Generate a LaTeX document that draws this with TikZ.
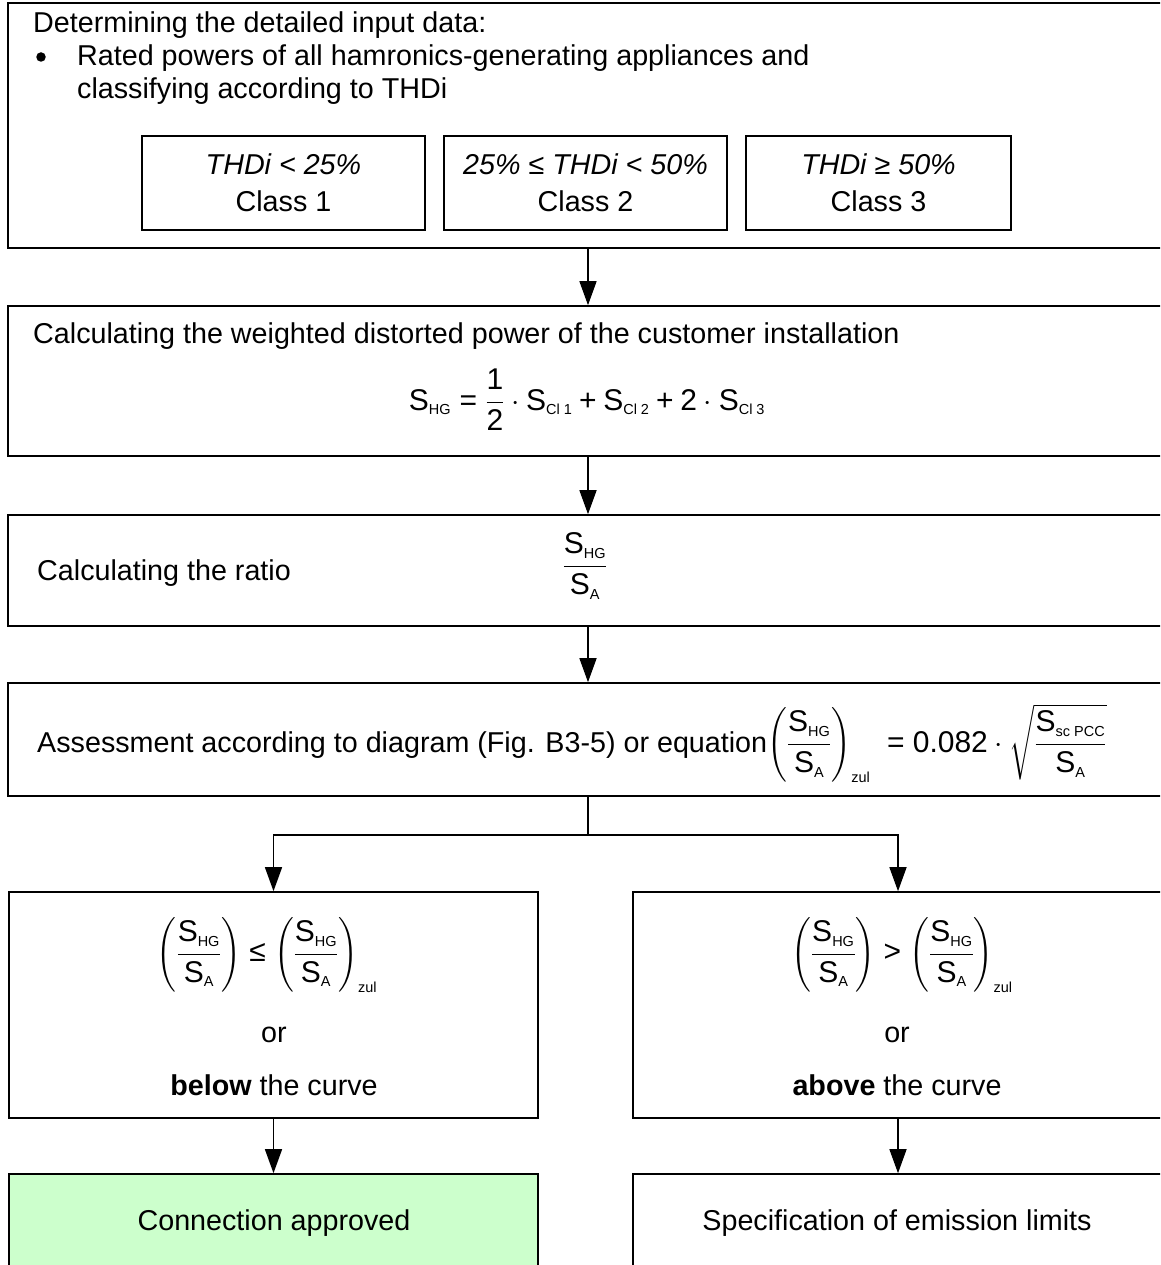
\RequirePackage{fix-cm}
\documentclass[tikz,border=0pt]{standalone}
\usepackage{amsmath}
\usepackage{fontspec}
\setmainfont{Liberation Sans}
\usetikzlibrary{arrows.meta}

\definecolor{okgreen}{HTML}{CCFFCC}

% font sizes
\newcommand\fs{\fontsize{28.7}{37}\selectfont}
\newcommand\mfs{\fontsize{30}{36}\selectfont}
% quantity S with a small upright subscript
\newcommand\sS[1]{\text{S}_{\text{\fontsize{14.5}{15}\selectfont #1}}}
\newcommand\zsub{\text{\fontsize{14.5}{15}\selectfont zul}}
\newcommand\ratio{\dfrac{\sS{HG}}{\sS{A}}}

\tikzset{
  box/.style={draw, line width=1.6pt, rectangle, inner sep=0pt},
  flow/.style={line width=1.4pt, -{Triangle[length=24pt,width=17pt]}},
  link/.style={line width=1.4pt},
  txt/.style={inner sep=0pt, font=\fs},
  eq/.style={inner sep=0pt, font=\mfs},
}

\begin{document}
\begin{tikzpicture}[x=1pt, y=-1pt]
\useasboundingbox (0,0) rectangle (1160,1265);
\clip (0,0) rectangle (1160,1265);

% ---- input data ----
\node[box, minimum width=1160pt, minimum height=245pt] (b1) at (588,125.5) {};
\node[txt, anchor=base west] (t1) at (33,33) {Determining the detailed input data:};
\node[circle, fill, inner sep=0pt, minimum size=9.5pt] (bul) at (41,57) {};
\node[txt, anchor=base west] (t2) at (77,66) {Rated powers of all hamronics-generating appliances and};
\node[txt, anchor=base west] (t3) at (77,99) {classifying according to THDi};

\node[box, minimum width=283pt, minimum height=94pt, font=\fs, align=center] (c1) at (283.5,183)
  {\textit{THDi < 25\%}\\Class 1};
\node[box, minimum width=283pt, minimum height=94pt, font=\fs, align=center] (c2) at (585.5,183)
  {\textit{25\% ≤ THDi < 50\%}\\Class 2};
\node[box, minimum width=265pt, minimum height=94pt, font=\fs, align=center] (c3) at (878.5,183)
  {\textit{THDi ≥ 50\%}\\Class 3};

% ---- weighted distorted power ----
\node[box, minimum width=1160pt, minimum height=150pt] (b2) at (588,381) {};
\node[txt, anchor=base west] (t4) at (33,343) {Calculating the weighted distorted power of the customer installation};
\node[eq] (f2) at (587,400)
  {$\sS{HG}\mathrel{\text{=}}\dfrac{\text{1}}{\text{2}}\cdot\sS{Cl 1}\mathbin{\text{+}}\sS{Cl 2}\mathbin{\text{+}}\text{2}\cdot\sS{Cl 3}$};

% ---- ratio ----
\node[box, minimum width=1160pt, minimum height=111pt] (b3) at (588,570.5) {};
\node[txt, anchor=base west] (t5) at (37,580) {Calculating the ratio};
\node[eq] (f3) at (585,566) {$\ratio$};

% ---- assessment ----
\node[box, minimum width=1160pt, minimum height=113pt] (b4) at (588,739.5) {};
\node[txt, anchor=base west] (t6) at (37,752)
  {Assessment according to diagram (Fig. B3-5) or equation{\mfs$\left(\ratio\right)_{\zsub}\;\mathrel{\text{=}}\text{0.082}\cdot\sqrt{\dfrac{\sS{sc PCC}}{\sS{A}}}$}};

% ---- decision ----
\node[box, minimum width=529pt, minimum height=226pt] (b5l) at (273.5,1005) {};
\node[box, minimum width=530pt, minimum height=226pt] (b5r) at (898,1005) {};
\node[eq] (f5l) at (267,955) {$\left(\ratio\right)\mathrel{\text{≤}}\left(\ratio\right)_{\zsub}$};
\node[eq] (f5r) at (902,955) {$\left(\ratio\right)\mathrel{\text{>}}\left(\ratio\right)_{\zsub}$};
\node[txt] (or1) at (274,1035) {or};
\node[txt] (or2) at (897,1035) {or};
\node[txt] (bl) at (274,1085) {\textbf{below} the curve};
\node[txt] (ab) at (897,1085) {\textbf{above} the curve};

% ---- results ----
\node[box, fill=okgreen, minimum width=529pt, minimum height=126pt] (b6l) at (273.5,1237) {};
\node[box, minimum width=530pt, minimum height=126pt] (b6r) at (898,1237) {};
\node[txt] (r1) at (274,1223) {Connection approved};
\node[txt] (r2) at (897,1223) {Specification of emission limits};

% ---- connectors ----
\draw[flow] (b1.south) -- (b2.north);
\draw[flow] (b2.south) -- (b3.north);
\draw[flow] (b3.south) -- (b4.north);
\draw[link] (b4.south) -- ++(0,38) coordinate (split);
\draw[flow] (split) -| (b5l.north);
\draw[flow] (split) -| (b5r.north);
\draw[flow] (b5l.south) -- (b6l.north);
\draw[flow] (b5r.south) -- (b6r.north);
\end{tikzpicture}
\end{document}
